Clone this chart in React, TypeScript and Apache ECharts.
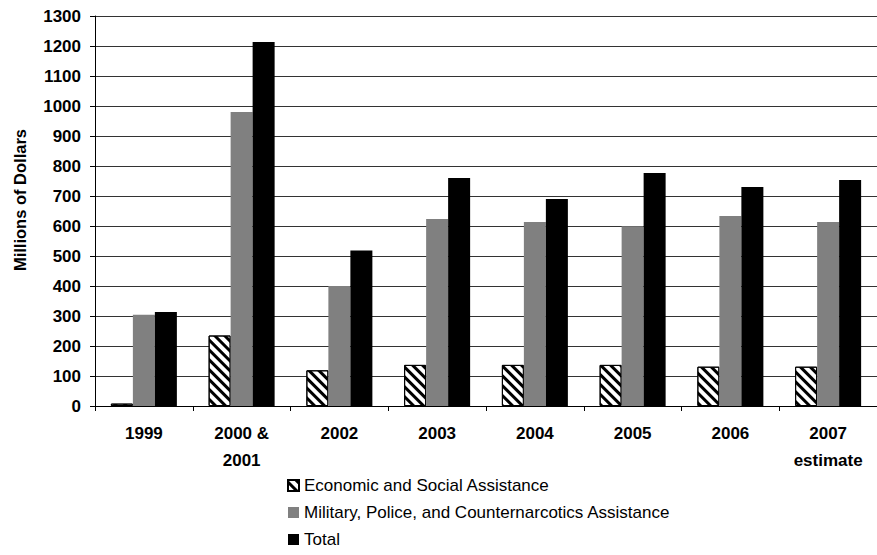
import React, { useEffect, useRef } from "react";
import * as echarts from "echarts";

const categories = ["1999", "2000 &\n2001", "2002", "2003", "2004", "2005", "2006", "2007\nestimate"];
const economicSocial = [8, 235, 119, 137, 137, 137, 131, 131];
const militaryPolice = [304, 980, 400, 623, 613, 599, 633, 613];
const total = [313, 1213, 518, 760, 690, 777, 730, 753];
const seriesNames = [
  "Economic and Social Assistance",
  "Military, Police, and Counternarcotics Assistance",
  "Total",
];

const FONT = "Arial, 'Liberation Sans', Helvetica, sans-serif";

export default function App() {
  const ref = useRef<HTMLDivElement>(null);

  useEffect(() => {
    if (!ref.current) return;
    const chart = echarts.init(ref.current, undefined, { renderer: "svg" });
    chart.setOption({
      animation: false,
      backgroundColor: "#fff",
      textStyle: { fontFamily: FONT },
      grid: { left: 95, right: -2, top: 16, bottom: 149, containLabel: false },
      legend: {
        orient: "vertical",
        left: 287,
        top: 477,
        height: 120,
        itemWidth: 11,
        itemHeight: 11,
        itemGap: 10,
        icon: "rect",
        padding: 0,
        textStyle: { fontFamily: FONT, fontSize: 17, lineHeight: 17, color: "#000" },
        data: seriesNames,
      },
      xAxis: {
        type: "category",
        data: categories,
        axisLine: { show: true, lineStyle: { color: "#000", width: 1 } },
        axisTick: { show: true, length: 5, lineStyle: { color: "#000" } },
        axisLabel: {
          color: "#000",
          fontWeight: "bold",
          fontSize: 17,
          lineHeight: 27,
          margin: 14,
          interval: 0,
        },
      },
      yAxis: {
        type: "value",
        min: 0,
        max: 1300,
        interval: 100,
        axisLine: { show: true, lineStyle: { color: "#000", width: 1 } },
        axisTick: { show: true, length: 5, lineStyle: { color: "#000" } },
        axisLabel: {
          color: "#000",
          fontWeight: "bold",
          fontSize: 17,
          margin: 14,
          formatter: (v: number) => String(v),
        },
        splitLine: { show: true, lineStyle: { color: "#333", width: 1 } },
      },
      graphic: [
        {
          type: "text",
          x: 20,
          y: 200,
          rotation: Math.PI / 2,
          style: {
            text: "Millions of Dollars",
            font: `bold 16.5px ${FONT}`,
            fill: "#000",
            align: "center",
            verticalAlign: "middle",
          },
        },
      ],
      series: [
        {
          name: seriesNames[0],
          type: "bar",
          data: economicSocial,
          barWidth: 22,
          barGap: "0%",
          itemStyle: {
            color: "#fff",
            borderColor: "#000",
            borderWidth: 1,
            decal: {
              symbol: "rect",
              symbolSize: 1,
              dashArrayX: [1, 0],
              dashArrayY: [3, 4],
              rotation: Math.PI / 4,
              color: "#000",
            },
          },
        },
        {
          name: seriesNames[1],
          type: "bar",
          data: militaryPolice,
          barWidth: 22,
          barGap: "0%",
          itemStyle: { color: "#808080" },
        },
        {
          name: seriesNames[2],
          type: "bar",
          data: total,
          barWidth: 22,
          barGap: "0%",
          itemStyle: { color: "#000" },
        },
      ],
    });
    return () => chart.dispose();
  }, []);

  return <div ref={ref} style={{ width: 877, height: 555, position: "absolute", left: 0, top: 0 }} />;
}
